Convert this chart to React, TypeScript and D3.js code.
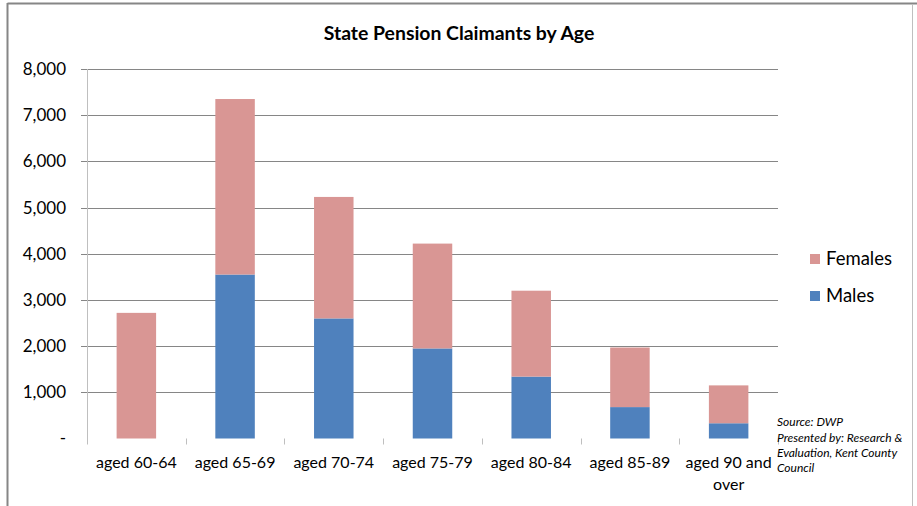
import { useRef, useEffect } from 'react';
import * as d3 from 'd3';

const categories = [
  'aged 60-64',
  'aged 65-69',
  'aged 70-74',
  'aged 75-79',
  'aged 80-84',
  'aged 85-89',
  'aged 90 and over',
];
const males = [0, 3550, 2600, 1950, 1340, 680, 330];
const females = [2720, 3800, 2630, 2270, 1860, 1290, 820];
const seriesNames = ['Males', 'Females'];
const seriesColors = ['#4F81BD', '#D99694'];
const yTicks = [0, 1000, 2000, 3000, 4000, 5000, 6000, 7000, 8000];
const sourceLines = [
  'Source: DWP',
  'Presented by: Research &',
  'Evaluation, Kent County',
  'Council',
];

const WIDTH = 917;
const HEIGHT = 506;
const FONT = 'Lato, "Open Sans", sans-serif';

export default function App() {
  const svgRef = useRef<SVGSVGElement>(null);

  useEffect(() => {
    if (!svgRef.current) return;
    const svg = d3.select(svgRef.current);
    svg.selectAll('*').remove();

    const margin = { top: 69, right: 139, bottom: 67, left: 87 };
    const innerRight = WIDTH - margin.right;
    const innerBottom = HEIGHT - margin.bottom - 0.5;

    // frame
    svg.append('line').attr('x1', 7.5).attr('x2', WIDTH).attr('y1', 3.5).attr('y2', 3.5)
      .attr('stroke', '#868686').attr('stroke-width', 2);
    svg.append('line').attr('x1', 7.5).attr('x2', 7.5).attr('y1', 3).attr('y2', HEIGHT)
      .attr('stroke', '#868686').attr('stroke-width', 2);
    svg.append('line').attr('x1', 912.5).attr('x2', 912.5).attr('y1', 4).attr('y2', HEIGHT)
      .attr('stroke', '#bfbfbf').attr('stroke-width', 1);

    const x = d3.scaleBand<string>()
      .domain(categories)
      .range([margin.left, innerRight])
      .paddingInner(0.6)
      .paddingOuter(0.3);

    const y = d3.scaleLinear().domain([0, 8000]).range([innerBottom, margin.top]);

    // gridlines + y ticks
    const grid = svg.append('g');
    grid.selectAll('line')
      .data(yTicks.filter((t) => t > 0))
      .join('line')
      .attr('x1', margin.left - 6)
      .attr('x2', innerRight)
      .attr('y1', (d) => Math.round(y(d)) + 0.5)
      .attr('y2', (d) => Math.round(y(d)) + 0.5)
      .attr('stroke', '#868686');

    svg.append('g')
      .selectAll('text')
      .data(yTicks)
      .join('text')
      .attr('x', 66)
      .attr('y', (d) => y(d))
      .attr('dy', '0.35em')
      .attr('text-anchor', 'end')
      .attr('font-family', FONT)
      .attr('font-size', 17)
      .attr('fill', '#000')
      .text((d) => (d === 0 ? '-' : d3.format(',')(d)));

    // stacked bars
    const rows = categories.map((c, i) => ({ category: c, Males: males[i], Females: females[i] }));
    const stacked = d3.stack<any>().keys(seriesNames)(rows);

    svg.append('g')
      .selectAll('g')
      .data(stacked)
      .join('g')
      .attr('fill', (_, i) => seriesColors[i])
      .selectAll('rect')
      .data((s) => s)
      .join('rect')
      .attr('x', (d) => x(d.data.category) || 0)
      .attr('width', x.bandwidth())
      .attr('y', (d) => y(d[1]))
      .attr('height', (d) => Math.max(0, y(d[0]) - y(d[1])));

    // axes lines
    const step = x.step();
    svg.append('line')
      .attr('x1', margin.left + 0.5).attr('x2', margin.left + 0.5)
      .attr('y1', margin.top).attr('y2', innerBottom + 6)
      .attr('stroke', '#bfbfbf');
    svg.append('g')
      .selectAll('line')
      .data(d3.range(1, categories.length + 1))
      .join('line')
      .attr('x1', (i) => Math.round(margin.left + i * step) + 0.5)
      .attr('x2', (i) => Math.round(margin.left + i * step) + 0.5)
      .attr('y1', innerBottom)
      .attr('y2', innerBottom + 6)
      .attr('stroke', '#bfbfbf');

    // x labels with wrapping
    const xl = svg.append('g')
      .selectAll('text')
      .data(categories)
      .join('text')
      .attr('x', (d) => (x(d) || 0) + x.bandwidth() / 2)
      .attr('y', 468)
      .attr('text-anchor', 'middle')
      .attr('font-family', FONT)
      .attr('font-size', 16)
      .attr('fill', '#000');
    xl.each(function (d) {
      const t = d3.select(this);
      const cx = (x(d) || 0) + x.bandwidth() / 2;
      const words = d.split(' ');
      let line: string[] = [];
      let tspan = t.append('tspan').attr('x', cx).attr('dy', 0);
      for (const w of words) {
        line.push(w);
        tspan.text(line.join(' '));
        if ((tspan.node() as SVGTSpanElement).getComputedTextLength() > step - 4 && line.length > 1) {
          line.pop();
          tspan.text(line.join(' '));
          line = [w];
          tspan = t.append('tspan').attr('x', cx).attr('dy', '1.4em').text(w);
        }
      }
    });

    // title
    svg.append('text')
      .attr('x', 459)
      .attr('y', 33)
      .attr('dy', '0.35em')
      .attr('text-anchor', 'middle')
      .attr('font-family', FONT)
      .attr('font-weight', 'bold')
      .attr('font-size', 19.4)
      .attr('fill', '#000')
      .text('State Pension Claimants by Age');

    // legend
    const legend = svg.append('g')
      .selectAll('g')
      .data(['Females', 'Males'])
      .join('g')
      .attr('transform', (_, i) => `translate(810, ${254 + i * 37})`);
    legend.append('rect')
      .attr('width', 10)
      .attr('height', 10)
      .attr('fill', (d) => seriesColors[seriesNames.indexOf(d)]);
    legend.append('text')
      .attr('x', 16)
      .attr('y', 5)
      .attr('dy', '0.35em')
      .attr('font-family', FONT)
      .attr('font-size', 18.5)
      .attr('fill', '#000')
      .text((d) => d);

    // source note
    svg.append('g')
      .selectAll('text')
      .data(sourceLines)
      .join('text')
      .attr('x', 777)
      .attr('y', (_, i) => 422 + i * 15.3)
      .attr('dy', '0.35em')
      .attr('font-family', FONT)
      .attr('font-style', 'italic')
      .attr('font-size', 12)
      .attr('fill', '#000')
      .text((d) => d);
  }, []);

  return (
    <div style={{ position: 'absolute', left: 0, top: 0 }}>
      <svg ref={svgRef} width={WIDTH} height={HEIGHT} style={{ display: 'block', background: '#fff' }} />
    </div>
  );
}
